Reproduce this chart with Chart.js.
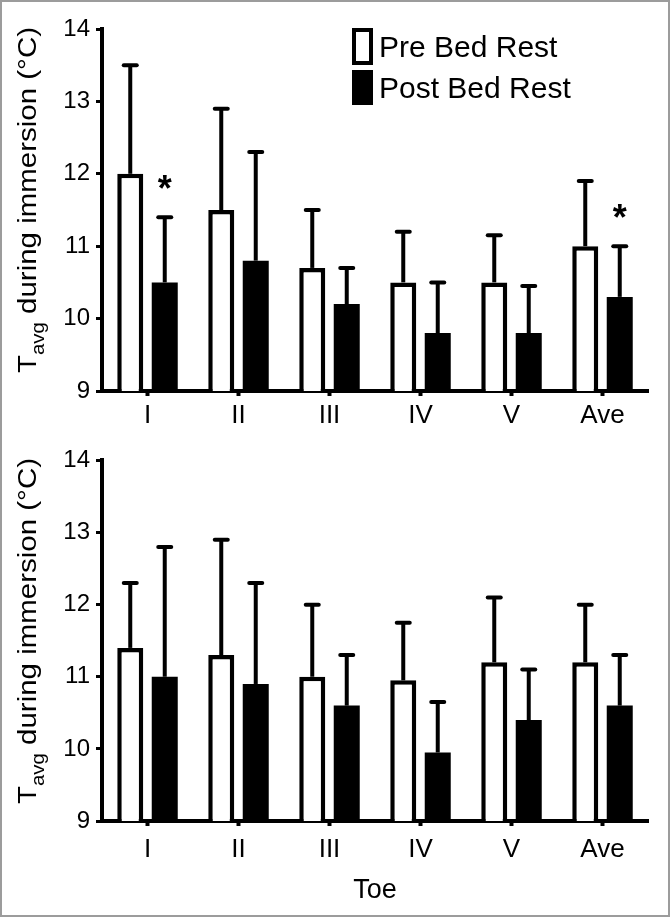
<!DOCTYPE html>
<html><head><meta charset="utf-8">
<script src="https://cdn.jsdelivr.net/npm/chart.js@4/dist/chart.umd.min.js"></script>
<style>
html,body{margin:0;padding:0;background:#fff;}
body{position:relative;width:670px;height:917px;overflow:hidden;}
canvas{position:absolute;left:0;}
#frame{position:absolute;left:0;top:0;width:670px;height:917px;box-sizing:border-box;border:2px solid #9c9c9c;pointer-events:none;}
</style></head><body>
<canvas id="c1" width="670" height="440" style="top:0px"></canvas>
<canvas id="c2" width="670" height="477" style="top:440px"></canvas>
<div id="frame"></div>
<script>
// ---- data ----
const categories = ['I', 'II', 'III', 'IV', 'V', 'Ave'];
const seriesNames = ['Pre Bed Rest', 'Post Bed Rest'];
const yTicks = [9, 10, 11, 12, 13, 14];
const xTitle = 'Toe';
const yTitleMain = 'T';
const yTitleSub = 'avg';
const yTitleRest = ' during immersion (°C)';

// top panel
const topPre = [12.0, 11.5, 10.7, 10.5, 10.5, 11.0];
const topPreSD = [1.5, 1.4, 0.8, 0.7, 0.65, 0.9];
const topPost = [10.5, 10.8, 10.2, 9.8, 9.8, 10.3];
const topPostSD = [0.9, 1.5, 0.5, 0.7, 0.65, 0.7];
const topPostSig = [true, false, false, false, false, true];

// bottom panel
const botPre = [11.4, 11.3, 11.0, 10.95, 11.2, 11.2];
const botPreSD = [0.9, 1.6, 1.0, 0.8, 0.9, 0.8];
const botPost = [11.0, 10.9, 10.6, 9.95, 10.4, 10.6];
const botPostSD = [1.8, 1.4, 0.7, 0.7, 0.7, 0.7];
const botPostSig = [false, false, false, false, false, false];

const FONT = '"Liberation Sans", Arial, Helvetica, sans-serif';

const errorBars = {
  id: 'errorBars',
  afterDatasetsDraw(chart) {
    const ctx = chart.ctx, ys = chart.scales.y;
    chart.data.datasets.forEach((ds, i) => {
      const meta = chart.getDatasetMeta(i);
      meta.data.forEach((bar, j) => {
        const v = ds.data[j], sd = ds.sd[j];
        const x = bar.x, y0 = ys.getPixelForValue(v), y1 = ys.getPixelForValue(v + sd);
        ctx.save();
        ctx.strokeStyle = '#000';
        ctx.lineWidth = 4;
        ctx.lineCap = 'butt';
        ctx.beginPath(); ctx.moveTo(x, y0); ctx.lineTo(x, y1 - 1); ctx.stroke();
        ctx.lineCap = 'round';
        ctx.beginPath(); ctx.moveTo(x - 6.5, y1); ctx.lineTo(x + 6.5, y1); ctx.stroke();
        if (ds.sig && ds.sig[j]) {
          ctx.font = 'bold 36px ' + FONT;
          ctx.fillStyle = '#000';
          ctx.textAlign = 'center';
          ctx.textBaseline = 'alphabetic';
          const m = ctx.measureText('*');
          const h = m.actualBoundingBoxAscent - m.actualBoundingBoxDescent;
          const cy = y1 - 23;
          ctx.fillText('*', x, cy + m.actualBoundingBoxAscent - h / 2);
        }
        ctx.restore();
      });
    });
  }
};

const decorations = {
  id: 'decorations',
  afterDraw(chart, args, o) {
    const ctx = chart.ctx;
    // y axis title with subscript
    ctx.save();
    ctx.translate(o.titleX, o.titleY);
    ctx.rotate(-Math.PI / 2);
    const fMain = '26px ' + FONT, fSub = '18px ' + FONT;
    ctx.font = fMain;
    const wT = ctx.measureText(yTitleMain).width, wR = ctx.measureText(yTitleRest).width;
    ctx.font = fSub;
    const wS = ctx.measureText(yTitleSub).width;
    const total = wT + wS + wR;
    const k = o.titleLen / total;
    ctx.scale(k, 1);
    ctx.fillStyle = '#000';
    ctx.textAlign = 'left';
    ctx.textBaseline = 'alphabetic';
    let x = -total / 2;
    ctx.font = fMain; ctx.fillText(yTitleMain, x, 0); x += wT;
    ctx.font = fSub; ctx.fillText(yTitleSub, x, 8); x += wS;
    ctx.font = fMain; ctx.fillText(yTitleRest, x, 0);
    ctx.restore();

    if (o.legend) {
      ctx.save();
      const ds = chart.data.datasets;
      const boxes = [[352, 28, 21, 37], [352, 70, 21, 35]];
      const bases = [57, 98];
      ds.forEach((d, i) => {
        const [bx, by, bw, bh] = boxes[i];
        ctx.fillStyle = '#000';
        ctx.fillRect(bx, by, bw, bh);
        ctx.fillStyle = d.backgroundColor;
        ctx.fillRect(bx + 4, by + 4, bw - 8, bh - 8);
        ctx.fillStyle = '#000';
        ctx.font = '30px ' + FONT;
        ctx.textAlign = 'left';
        ctx.textBaseline = 'alphabetic';
        ctx.fillText(d.label, 379, bases[i]);
      });
      ctx.restore();
    }
    if (o.xTitle) {
      ctx.save();
      ctx.fillStyle = '#000';
      ctx.font = '27px ' + FONT;
      ctx.textAlign = 'center';
      ctx.textBaseline = 'alphabetic';
      const ca = chart.chartArea;
      ctx.fillText(o.xTitle, (ca.left + ca.right) / 2, o.xTitleY);
      ctx.restore();
    }
  }
};

function makeChart(id, pre, preSD, post, postSD, sig, P) {
  return new Chart(document.getElementById(id), {
    type: 'bar',
    data: {
      labels: categories,
      datasets: [
        { label: seriesNames[0], data: pre, sd: preSD, backgroundColor: '#ffffff', borderColor: '#000000', borderWidth: 4.5,
          categoryPercentage: 0.758, barPercentage: 0.754 },
        { label: seriesNames[1], data: post, sd: postSD, sig: sig, backgroundColor: '#000000', borderColor: '#000000', borderWidth: 0,
          categoryPercentage: 0.758, barPercentage: 0.754 }
      ]
    },
    options: {
      responsive: false,
      animation: false,
      devicePixelRatio: 1,
      layout: { padding: { top: P.top, left: 0, right: 22, bottom: 0 } },
      plugins: {
        legend: { display: false },
        tooltip: { enabled: false },
        decorations: P.deco
      },
      scales: {
        x: {
          type: 'category',
          offset: true,
          grid: { display: true, drawOnChartArea: false, offset: false, tickLength: 5, tickWidth: 4, tickColor: '#000' },
          border: { display: true, width: 4, color: '#000' },
          ticks: { color: '#000', font: { family: FONT, size: 26 }, padding: P.xpad, maxRotation: 0, autoSkip: false },
          afterFit(s) { s.height = P.xh; }
        },
        y: {
          min: yTicks[0],
          max: yTicks[yTicks.length - 1],
          ticks: { stepSize: 1, color: '#000', font: { family: FONT, size: 24 }, padding: 6 },
          grid: { display: true, drawOnChartArea: false, tickLength: 6, tickWidth: 3, tickColor: '#000' },
          border: { display: true, width: 4, color: '#000' },
          afterFit(s) { s.width = 102; }
        }
      }
    },
    plugins: [errorBars, decorations]
  });
}

makeChart('c1', topPre, topPreSD, topPost, topPostSD, topPostSig,
  { top: 29, xh: 49, xpad: 4, deco: { titleX: 36, titleY: 200, titleLen: 346, legend: true } });
makeChart('c2', botPre, botPreSD, botPost, botPostSD, botPostSig,
  { top: 19, xh: 96, xpad: 8, deco: { titleX: 36, titleY: 191, titleLen: 346, legend: false, xTitle: xTitle, xTitleY: 458 } });
</script>
</body></html>
